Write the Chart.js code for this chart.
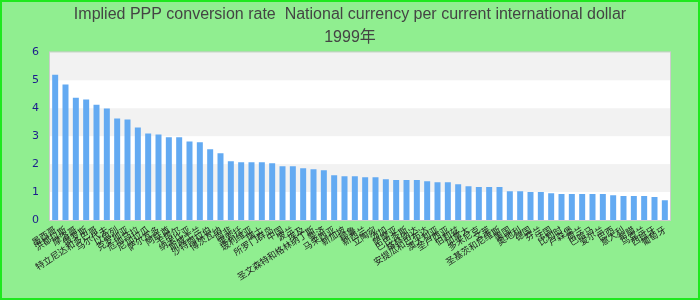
<!DOCTYPE html>
<html>
<head>
<meta charset="utf-8">
<script src="https://cdn.jsdelivr.net/npm/chart.js@4/dist/chart.umd.min.js"></script>
<style>
  html, body { margin: 0; padding: 0; background: #90ee90; }
  #wrap { width: 700px; height: 300px; }
</style>
</head>
<body>
<div id="wrap"><canvas id="pppChart" width="700" height="300"></canvas></div>
<script>
// chart data
const titleLines = ["Implied PPP conversion rate  National currency per current international dollar", "1999年"];

const countries = [
	"墨西哥", "洪都拉斯", "摩洛哥", "俄罗斯", "特立尼达和多巴哥", "马尔代夫", "以色列", "克罗地亚",
	"危地马拉", "尼加拉瓜", "萨尔瓦多", "阿联酋", "卡塔尔", "纳米比亚", "斯威士兰", "沙特阿拉伯",
	"博茨瓦纳", "南非", "莱索托", "玻利维亚", "瑞士", "所罗门群岛", "中国", "波兰",
	"埃及", "圣文森特和格林纳丁斯", "斐济", "马来西亚", "新加坡", "秘鲁", "新西兰", "立陶宛",
	"汤加", "萨摩亚", "巴巴多斯", "格林纳达", "安提瓜和巴布达", "澳大利亚", "圣卢西亚", "伯利兹",
	"加拿大", "多米尼克", "文莱", "圣基茨和尼维斯", "美国", "奥地利", "德国", "芬兰",
	"法国", "比利时", "卢森堡", "荷兰", "巴哈马", "爱尔兰", "巴西", "意大利",
	"希腊", "乌克兰", "西班牙", "葡萄牙"
];

const pppRates = [
	5.20, 4.85, 4.38, 4.31, 4.13, 3.99, 3.63, 3.60,
	3.31, 3.10, 3.06, 2.96, 2.96, 2.81, 2.78, 2.53,
	2.39, 2.10, 2.07, 2.07, 2.07, 2.03, 1.92, 1.92,
	1.85, 1.82, 1.78, 1.60, 1.57, 1.57, 1.53, 1.53,
	1.46, 1.43, 1.43, 1.43, 1.39, 1.35, 1.35, 1.28,
	1.21, 1.18, 1.18, 1.18, 1.03, 1.03, 1.00, 1.00,
	0.96, 0.93, 0.93, 0.93, 0.93, 0.93, 0.89, 0.86,
	0.86, 0.86, 0.82, 0.71
];

const yTicks = [0, 1, 2, 3, 4, 5, 6];

// background, banded plot area and outer border
const backdrop = {
	id: "backdrop",
	beforeDraw(chart) {
		const ctx = chart.ctx;
		ctx.save();
		ctx.fillStyle = "#90ee90";
		ctx.fillRect(0, 0, chart.width, chart.height);
		const area = chart.chartArea;
		const y = chart.scales.y;
		ctx.fillStyle = "#ffffff";
		ctx.fillRect(area.left, area.top, area.right - area.left, area.bottom - area.top);
		ctx.fillStyle = "#f2f2f2";
		for (let i = 1; i < yTicks.length - 1; i += 2) {
			const top = y.getPixelForValue(yTicks[i + 1]);
			const bottom = y.getPixelForValue(yTicks[i]);
			ctx.fillRect(area.left, top, area.right - area.left, bottom - top);
		}
		ctx.restore();
	},
	afterDraw(chart) {
		const ctx = chart.ctx;
		const area = chart.chartArea;
		ctx.save();
		ctx.strokeStyle = "#cccccc";
		ctx.lineWidth = 1;
		ctx.strokeRect(area.left - 0.5, area.top - 0.5, area.right - area.left + 1, area.bottom - area.top + 1);
		ctx.strokeStyle = "#1ee81e";
		ctx.lineWidth = 2;
		ctx.strokeRect(1, 1, chart.width - 2, chart.height - 2);
		ctx.restore();
	},
};

const ctx = document.getElementById("pppChart").getContext("2d");
new Chart(ctx, {
	type: "bar",
	data: {
		labels: countries,
		datasets: [
			{
				label: "PPP",
				data: pppRates,
				backgroundColor: "#63aaf2",
				borderWidth: 0,
				categoryPercentage: 1,
				barPercentage: 0.58,
			},
		],
	},
	options: {
		responsive: false,
		animation: false,
		layout: { padding: { left: 0, right: 0, top: 3, bottom: 0 } },
		plugins: {
			legend: { display: false },
			tooltip: { enabled: false },
			title: {
				display: true,
				text: titleLines,
				color: "#444444",
				font: { family: "'Liberation Sans', Arial, 'Noto Sans CJK SC', sans-serif", size: 16, weight: "normal", lineHeight: 1.45 },
				padding: { top: 0, bottom: 3 },
			},
		},
		scales: {
			x: {
				grid: { display: false, drawTicks: false },
				border: { display: false },
				ticks: {
					autoSkip: false,
					minRotation: 33,
					maxRotation: 33,
					padding: 4,
					color: "#222222",
					font: { family: "'Noto Sans CJK SC', sans-serif", size: 9 },
				},
				afterFit(scale) {
					scale.height = 80;
				},
			},
			y: {
				min: 0,
				max: 6,
				grid: { display: false, drawTicks: false },
				border: { display: false },
				ticks: {
					stepSize: 1,
					padding: 11,
					color: "#1c1c8c",
					font: { family: "'DejaVu Sans', sans-serif", size: 11 },
				},
				afterFit(scale) {
					scale.width = 50;
				},
			},
			// empty right-hand spacer so the title stays centred on the canvas
			yRight: {
				position: "right",
				min: 0,
				max: 6,
				grid: { display: false, drawTicks: false },
				border: { display: false },
				ticks: { display: false },
				afterFit(scale) {
					scale.width = 30;
				},
			},
		},
	},
	plugins: [backdrop],
});
</script>
</body>
</html>
